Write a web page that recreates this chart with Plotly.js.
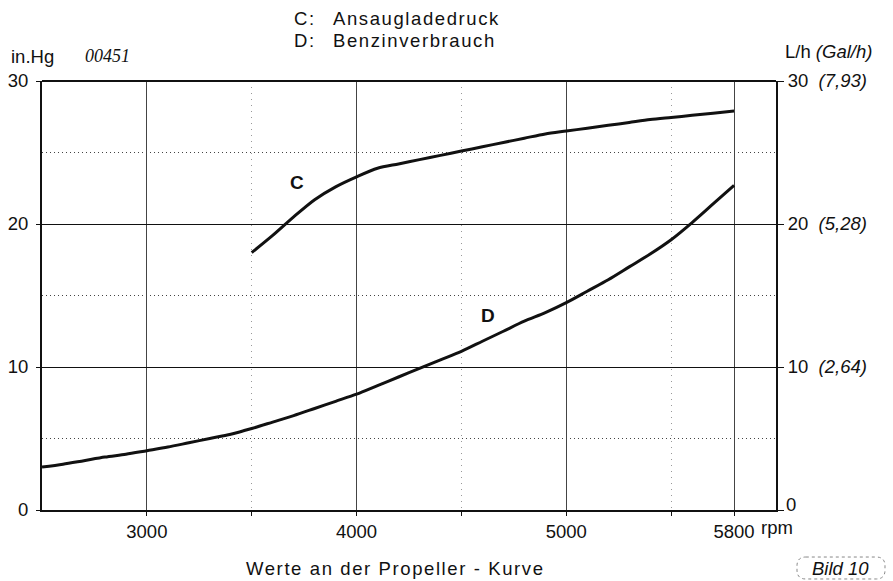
<!DOCTYPE html>
<html><head><meta charset="utf-8">
<script src="https://cdn.plot.ly/plotly-3.0.1.min.js"></script>
<style>body{margin:0;background:#fff}</style>
</head><body>
<div id="chart" style="width:893px;height:581px"></div>
<script>
// Data
const rpmC = [3500,3600,3700,3800,3900,4000,4100,4200,4300,4400,4500,4600,4700,4800,4900,5000,5100,5200,5300,5400,5500,5600,5700,5800];
const ladedruckC = [18.0,19.2,20.5,21.7,22.6,23.3,23.9,24.2,24.5,24.8,25.1,25.4,25.7,26.0,26.3,26.5,26.7,26.9,27.1,27.3,27.45,27.6,27.75,27.9];
const rpmD = [2500,2600,2700,2800,2900,3000,3100,3200,3300,3400,3500,3600,3700,3800,3900,4000,4100,4200,4300,4400,4500,4600,4700,4800,4900,5000,5100,5200,5300,5400,5500,5600,5700,5800];
const verbrauchD = [3.0,3.2,3.45,3.7,3.9,4.15,4.4,4.7,5.0,5.3,5.7,6.15,6.6,7.1,7.6,8.1,8.7,9.3,9.9,10.5,11.1,11.8,12.5,13.2,13.8,14.5,15.3,16.1,17.0,17.9,18.9,20.1,21.4,22.7];
const xTickVals = [3000,4000,5000,5800];
const xTickText = ['3000','4000','5000','5800'];
const xMinorVals = [3500,4500,5500];
const yTickVals = [0,10,20,30];
const yLeftText = ['0','10','20','30'];
const yRightText = ['','10  <i>(2,64)</i>','20  <i>(5,28)</i>','30  <i>(7,93)</i>'];

const font = 'Liberation Sans, Arial, sans-serif';
const FS = 18.5;
const sp = (t) => '<span style="letter-spacing:1.6px">' + t + '</span>';
const traces = [
  {x: rpmC, y: ladedruckC, type:'scatter', mode:'lines', line:{color:'#111', width:3, shape:'spline', smoothing:0.8}, hoverinfo:'skip'},
  {x: rpmD, y: verbrauchD, type:'scatter', mode:'lines', line:{color:'#111', width:3, shape:'spline', smoothing:0.8}, hoverinfo:'skip'},
  {x: [rpmD[0]], y: [0], yaxis:'y2', type:'scatter', mode:'markers', marker:{opacity:0}, hoverinfo:'skip'}
];
const layout = {
  width: 893, height: 581, autosize:false,
  margin:{l:42, r:117, t:81, b:71},
  paper_bgcolor:'#fff', plot_bgcolor:'#fff',
  showlegend:false,
  font:{family:font, size:FS, color:'#111'},
  xaxis:{range:[2500,6000], tickmode:'array', tickvals:xTickVals, ticktext:xTickText,
    showline:true, linecolor:'#111', linewidth:2, ticks:'outside', ticklen:4, tickcolor:'#111',
    showgrid:true, gridcolor:'#444', gridwidth:1, zeroline:false,
    minor:{tickvals:xMinorVals, showgrid:true, gridcolor:'#999', griddash:'1px,5px', gridwidth:1, ticks:'outside', ticklen:4, tickcolor:'#111'},
    tickfont:{size:FS}},
  yaxis:{range:[0,30], tickmode:'array', tickvals:yTickVals, ticktext:yLeftText,
    showline:true, linecolor:'#111', linewidth:2, ticks:'outside', ticklen:4, tickcolor:'#111',
    ticklabelstandoff:4,
    showgrid:true, gridcolor:'#111', gridwidth:1, zeroline:false,
    minor:{dtick:5, tick0:0, showgrid:true, gridcolor:'#444', griddash:'1px,3px', gridwidth:1},
    tickfont:{size:FS}},
  yaxis2:{range:[0,30], overlaying:'y', side:'right', tickmode:'array', tickvals:yTickVals, ticktext:yRightText,
    showline:true, linecolor:'#111', linewidth:2, ticks:'outside', ticklen:6, tickcolor:'#111',
    showgrid:false, zeroline:false, tickfont:{size:FS}},
  shapes:[
    {type:'line', xref:'paper', yref:'paper', x0:0, x1:1, y0:1, y1:1, line:{color:'#111', width:2}},
    {type:'path', xref:'paper', yref:'paper',
     path:'M 1.0406 -0.1096 L 1.1365 -0.1096 Q 1.1485 -0.1096 1.1485 -0.1306 L 1.1485 -0.1398 Q 1.1485 -0.1608 1.1365 -0.1608 L 1.0406 -0.1608 Q 1.0286 -0.1608 1.0286 -0.1398 L 1.0286 -0.1306 Q 1.0286 -0.1096 1.0406 -0.1096 Z',
     line:{color:'#888', width:1, dash:'dot'}}
  ],
  annotations:[
    {xref:'paper', yref:'paper', x:0.3406, y:1.1457, xanchor:'left', yanchor:'middle', align:'left', text:sp('C:'), showarrow:false},
    {xref:'paper', yref:'paper', x:0.3940, y:1.1457, xanchor:'left', yanchor:'middle', align:'left', text:sp('Ansaugladedruck'), showarrow:false},
    {xref:'paper', yref:'paper', x:0.3406, y:1.0944, xanchor:'left', yanchor:'middle', align:'left', text:sp('D:'), showarrow:false},
    {xref:'paper', yref:'paper', x:0.3940, y:1.0944, xanchor:'left', yanchor:'middle', align:'left', text:sp('Benzinverbrauch'), showarrow:false},
    {xref:'paper', yref:'paper', x:0.0892, y:1.058, xanchor:'center', yanchor:'middle', text:'<i>00451</i>', showarrow:false, font:{family:'Liberation Serif, serif', size:18}},
    {xref:'paper', yref:'paper', x:-0.0136, y:1.057, xanchor:'center', yanchor:'middle', text:'in.Hg', showarrow:false},
    {xref:'paper', yref:'paper', x:1.0095, y:1.0688, xanchor:'left', yanchor:'middle', align:'left', text:'L/h <i>(Gal/h)</i>', showarrow:false},
    {xref:'paper', yref:'paper', x:1.0109, y:0.0117, xanchor:'left', yanchor:'middle', align:'left', text:'0', showarrow:false},
    {xref:'paper', yref:'paper', x:0.9768, y:-0.0400, xanchor:'left', yanchor:'middle', align:'left', text:'rpm', showarrow:false},
    {xref:'paper', yref:'paper', x:0.481, y:-0.1375, xanchor:'center', yanchor:'middle', text:sp('Werte an der Propeller - Kurve'), showarrow:false},
    {xref:'paper', yref:'paper', x:1.0885, y:-0.1375, xanchor:'center', yanchor:'middle', text:'<i>Bild 10</i>', showarrow:false},
    {xref:'x', yref:'y', x:3717, y:22.9, text:'<b>C</b>', showarrow:false, font:{size:19}},
    {xref:'x', yref:'y', x:4629, y:13.6, text:'<b>D</b>', showarrow:false, font:{size:19}}
  ]
};
Plotly.newPlot('chart', traces, layout, {staticPlot:true, displayModeBar:false});
</script>
</body></html>
